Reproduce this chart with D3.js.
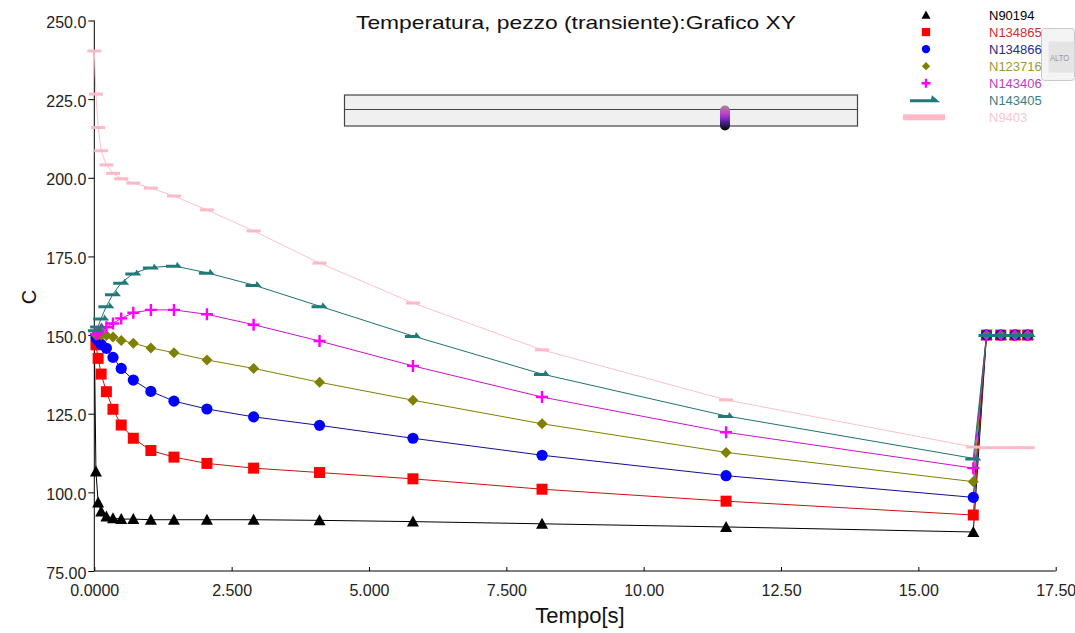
<!DOCTYPE html>
<html>
<head>
<meta charset="utf-8">
<script src="https://cdn.jsdelivr.net/npm/d3@7"></script>
<style>
  body { margin: 0; background: #fff; }
  svg { display: block; font-family: "Liberation Sans", Arial, sans-serif; }
</style>
</head>
<body>
<svg id="chart" width="1075" height="633"></svg>
<script>
// Output times of the transient solution [s]
const times = [0, 0.03, 0.07, 0.125, 0.22, 0.34, 0.49, 0.71, 1.03, 1.45, 2.05, 2.9,
               4.1, 5.8, 8.15, 11.5, 16.0, 16.24, 16.5, 16.76, 16.99];

// Node temperatures [C]
const n90194  = [150, 106.6, 96.8, 93.9, 92.3, 91.8, 91.5, 91.5, 91.3, 91.3, 91.3, 91.3,
                 91.1, 90.7, 90.0, 89.0, 87.4, 150, 150, 150, 150];
const n134865 = [150, 146.9, 142.6, 137.6, 132.0, 126.4, 121.4, 117.2, 113.3, 111.2, 109.2, 107.7,
                 106.3, 104.3, 101.0, 97.2, 92.8, 150, 150, 150, 150];
const n134866 = [150, 149.2, 148.2, 147.0, 145.8, 142.9, 139.4, 135.7, 132.1, 129.0, 126.5, 124.0,
                 121.3, 117.2, 111.8, 105.3, 98.4, 150, 150, 150, 150];
const n123716 = [150, 150, 150, 150, 149.9, 149.4, 148.3, 147.4, 145.9, 144.4, 142.1, 139.4,
                 135.0, 129.3, 121.8, 112.7, 103.4, 150, 150, 150, 150];
const n143406 = [150, 150.3, 150.8, 151.5, 152.5, 153.7, 155.3, 157.1, 158.0, 158.0, 156.6, 153.3,
                 148.1, 140.2, 130.3, 119.1, 107.7, 150, 150, 150, 150];
const n143405 = [150, 151.5, 152.7, 155.3, 159.2, 163.0, 166.6, 169.6, 171.5, 172.0, 169.8, 165.9,
                 159.2, 149.7, 137.6, 124.3, 110.8, 150, 150, 150, 150];
const n9403   = [240.3, 226.6, 216.0, 208.6, 204.1, 201.4, 199.7, 198.3, 196.7, 194.2, 189.8, 183.1,
                 172.9, 160.2, 145.3, 129.4, 114.4, 114.2, 114.2, 114.2, 114.2];

const seriesNames = ["N90194", "N134865", "N134866", "N123716", "N143406", "N143405", "N9403"];
const seriesValues = [n90194, n134865, n134866, n123716, n143406, n143405, n9403];

const xTicks = [0, 2.5, 5, 7.5, 10, 12.5, 15, 17.5];
const xTickLabels = ["0.0000", "2.500", "5.000", "7.500", "10.00", "12.50", "15.00", "17.50"];
const yTicks = [75, 100, 125, 150, 175, 200, 225, 250];
const yTickLabels = ["75.00", "100.0", "125.0", "150.0", "175.0", "200.0", "225.0", "250.0"];

// Styling per series
const lineColors   = ["#000000", "#cc1010", "#101090", "#808000", "#cc10cc", "#1f7373", "#ffc0cb"];
const markerColors = ["#000000", "#ff0000", "#0000ff", "#808000", "#ff00ff", "#1f7a7a", "#ffb8c6"];
const legendTextColors = ["#000000", "#c83030", "#2a2a8a", "#9a9a30", "#c040c0", "#3a8080", "#f5c8d0"];
const markerKinds = ["triangle", "square", "circle", "diamond", "plus", "flag", "dash"];

const svg = d3.select("#chart");

const x = d3.scaleLinear().domain([0, 17.5]).range([94.3, 1055.7]);
const y = d3.scaleLinear().domain([75, 250]).range([571, 20.5]);

// Marker shapes, centred at 0,0; scale factor k for legend use
function drawMarker(g, kind, color, k = 1) {
  switch (kind) {
    case "triangle":
      g.append("path").attr("d", `M0,${-6*k}L${6*k},${5*k}L${-6*k},${5*k}Z`).attr("fill", color);
      break;
    case "square":
      g.append("rect").attr("x", -5.5*k).attr("y", -5.5*k).attr("width", 11*k).attr("height", 11*k).attr("fill", color);
      break;
    case "circle":
      g.append("circle").attr("r", 5.6*k).attr("fill", color);
      break;
    case "diamond":
      g.append("path").attr("d", `M0,${-5.5*k}L${5.5*k},0L0,${5.5*k}L${-5.5*k},0Z`).attr("fill", color);
      break;
    case "plus":
      g.append("path").attr("d", `M${-6*k},0H${6*k}M0,${-6*k}V${6*k}`)
        .attr("stroke", color).attr("stroke-width", 2.4).attr("fill", "none");
      break;
    case "flag":
      g.append("path").attr("d", `M${-8*k},${-1}L${2*k},${-1}L${3*k},${-4*k}L${8*k},${2}L${-8*k},${2}Z`)
        .attr("fill", color);
      break;
    case "dash":
      g.append("rect").attr("x", -7*k).attr("y", -1.5).attr("width", 14*k).attr("height", 3).attr("fill", color);
      break;
  }
}

// Axes
const yAxis = d3.axisLeft(y).tickValues(yTicks).tickSize(6)
  .tickFormat((d, i) => yTickLabels[i]);
const gy = svg.append("g").attr("transform", `translate(${x(0)},0)`).call(yAxis);
gy.select(".domain").attr("stroke", "#000").attr("d", `M0,${y(250)}V${y(75)}`);
gy.selectAll(".tick line").attr("stroke", "#000");
gy.selectAll(".tick text").attr("font-size", 16).attr("fill", "#222")
  .attr("x", -8).attr("dy", "0.45em");

const xAxis = d3.axisBottom(x).tickValues(xTicks).tickSize(-4)
  .tickFormat((d, i) => xTickLabels[i]);
const gx = svg.append("g").attr("transform", `translate(0,${y(75)})`).call(xAxis);
gx.select(".domain").attr("stroke", "#000").attr("d", `M${x(0)},0H${x(17.5)}`);
gx.selectAll(".tick line").attr("stroke", "#000");
gx.selectAll(".tick text").attr("font-size", 16).attr("fill", "#222").attr("y", 14).attr("dy", "0.71em");

// Axis titles and chart title
svg.append("text").attr("x", 580).attr("y", 623).attr("text-anchor", "middle")
  .attr("font-size", 22).attr("fill", "#111").text("Tempo[s]");
svg.append("text").attr("transform", "translate(36,297) rotate(-90)").attr("text-anchor", "middle")
  .attr("font-size", 20).attr("fill", "#111").text("C");
svg.append("text").attr("x", 576).attr("y", 29).attr("text-anchor", "middle")
  .attr("font-size", 19).attr("textLength", 440).attr("lengthAdjust", "spacingAndGlyphs")
  .attr("fill", "#111").text("Temperatura, pezzo (transiente):Grafico XY");

// Series lines and markers
const line = d3.line().x((d, i) => x(times[i])).y(d => y(d));
const plot = svg.append("g");
seriesValues.forEach((vals, s) => {
  plot.append("path").datum(vals).attr("d", line)
    .attr("fill", "none").attr("stroke", lineColors[s]).attr("stroke-width", 1);
});
// pink drawn first so others sit on top
const order = [6, 0, 1, 2, 3, 4, 5];
order.forEach(s => {
  const gs = plot.append("g");
  seriesValues[s].forEach((v, i) => {
    if (s !== 6 && i === 0) return; // common initial point carries no marker
    const g = gs.append("g").attr("transform", `translate(${x(times[i])},${y(v)})`);
    drawMarker(g, markerKinds[s], markerColors[s]);
  });
});

// Time slider panel
const slider = svg.append("g");
slider.append("rect").attr("x", 344.5).attr("y", 95).attr("width", 513).attr("height", 31)
  .attr("fill", "#f0f0f0").attr("stroke", "#444").attr("stroke-width", 1.2);
slider.append("line").attr("x1", 344.5).attr("x2", 857.5).attr("y1", 109.5).attr("y2", 109.5)
  .attr("stroke", "#444").attr("stroke-width", 1.2);
const grad = svg.append("defs").append("linearGradient").attr("id", "thumb")
  .attr("x1", 0).attr("y1", 0).attr("x2", 0).attr("y2", 1);
[["0%", "#9a8a9a"], ["25%", "#c050c0"], ["45%", "#a030c8"], ["65%", "#5020a0"], ["85%", "#201838"], ["100%", "#000"]]
  .forEach(([o, c]) => grad.append("stop").attr("offset", o).attr("stop-color", c));
slider.append("rect").attr("x", 720).attr("y", 105.5).attr("width", 10).attr("height", 25).attr("rx", 5)
  .attr("fill", "url(#thumb)");

// Button partially visible at the right edge
const btn = svg.append("g");
btn.append("rect").attr("x", 1041.5).attr("y", 28.5).attr("width", 33).attr("height", 52).attr("rx", 3)
  .attr("fill", "#f4f4f4").attr("stroke", "#c8c8c8");
btn.append("rect").attr("x", 1048.5).attr("y", 41.5).attr("width", 26).attr("height", 31)
  .attr("fill", "#e4e4e4");
btn.append("text").attr("x", 1050).attr("y", 61).attr("font-size", 9)
  .attr("textLength", 19).attr("lengthAdjust", "spacingAndGlyphs")
  .attr("fill", "#999").text("ALTO");

// Legend
const legend = svg.append("g");
seriesNames.forEach((name, s) => {
  const cy = 15 + 17.05 * s;
  const g = legend.append("g").attr("transform", `translate(926,${cy})`);
  if (markerKinds[s] === "flag") {
    g.append("path").attr("d", "M-16,-1L5,-1L6,-5L14,2L-16,2Z").attr("fill", markerColors[s]);
  } else if (markerKinds[s] === "dash") {
    g.append("rect").attr("x", -23).attr("y", -3).attr("width", 42).attr("height", 6).attr("fill", markerColors[s]);
  } else {
    drawMarker(g, markerKinds[s], markerColors[s], 0.75);
  }
  legend.append("text").attr("x", 989).attr("y", cy + 4.5).attr("font-size", 13)
    .attr("fill", legendTextColors[s]).text(name);
});
</script>
</body>
</html>
